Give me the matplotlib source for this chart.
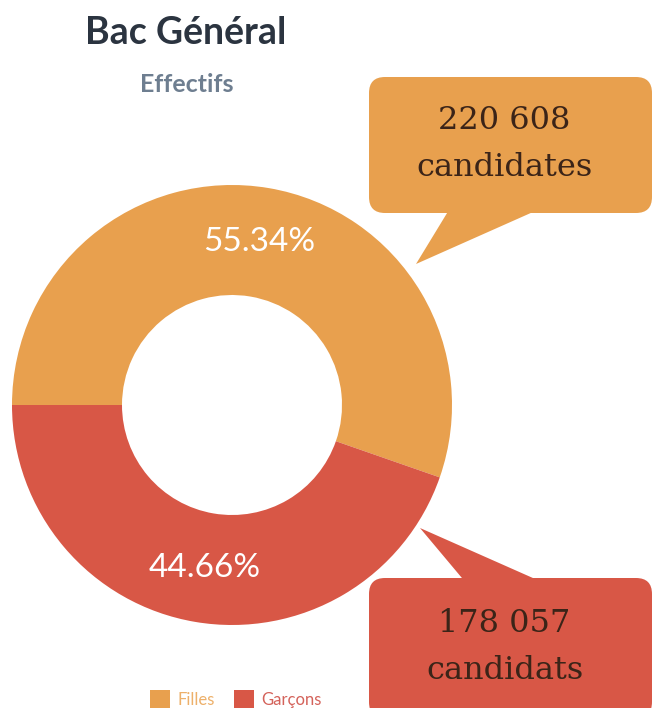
import matplotlib
matplotlib.use("Agg")
import matplotlib.pyplot as plt
from matplotlib.patches import FancyBboxPatch, Polygon

# données
categories = ["Filles", "Garçons"]
effectifs = [220608, 178057]
bulles = ["220 608\ncandidates", "178 057\ncandidats"]
couleurs = ["#E8A04E", "#D85746"]
couleurs_legende = ["#EDB06A", "#D4625A"]

W, H = 654, 708


def py(y):
    # coordonnées pixel (origine en haut) -> données
    return H - y


fig = plt.figure(figsize=(W / 100, H / 100), dpi=100)
ax = fig.add_axes([0, 0, 1, 1])

cx, cy, r_out, r_in = 232, 405, 220, 110
wedges, _, pcts = ax.pie(
    effectifs, colors=couleurs, startangle=180, counterclock=False,
    radius=r_out, center=(cx, py(cy)),
    wedgeprops=dict(width=r_out - r_in, edgecolor="none"),
    autopct="%.2f%%", pctdistance=(r_out + r_in) / 2 / r_out,
    textprops=dict(color="white", family="Lato", fontsize=24),
)
ax.set_xlim(0, W)
ax.set_ylim(0, H)
ax.set_aspect("equal")
ax.axis("off")

# titre
ax.text(186, py(33), "Bac Général", ha="center", va="center",
        family="Lato", weight="bold", fontsize=27, color="#2B3440")
ax.text(187, py(84), "Effectifs", ha="center", va="center",
        family="Lato", weight="bold", fontsize=18, color="#6E7E90")

# bulles
boites = [(369, 77, 283, 136), (369, 578, 283, 140)]
pointes = [[(455, 200), (560, 200), (416, 264)],
           [(472, 590), (560, 590), (420, 528)]]
for (x, y, w, h), tri, txt, col in zip(boites, pointes, bulles, couleurs):
    ax.add_patch(FancyBboxPatch((x, py(y + h)), w, h,
                                boxstyle="round,pad=0,rounding_size=16",
                                facecolor=col, edgecolor="none", zorder=3))
    ax.add_patch(Polygon([(a, py(b)) for a, b in tri], closed=True,
                         facecolor=col, edgecolor="none", zorder=3))
    ax.text(x + w / 2 - 6, py(y + h / 2 - 1), txt, ha="center", va="center",
            family="DejaVu Serif", fontsize=23, color="#3B2418",
            linespacing=1.65, zorder=4)

# légende
leg = ax.legend(wedges, categories, loc="center", ncol=2, frameon=False,
                bbox_to_anchor=(236 / W, py(699) / H), handlelength=1.2,
                handleheight=1.2, handletextpad=0.45, columnspacing=1.1,
                prop=dict(family="Lato", size=12))
for t, col in zip(leg.get_texts(), couleurs_legende):
    t.set_color(col)

fig.savefig("out.png", dpi=100)
